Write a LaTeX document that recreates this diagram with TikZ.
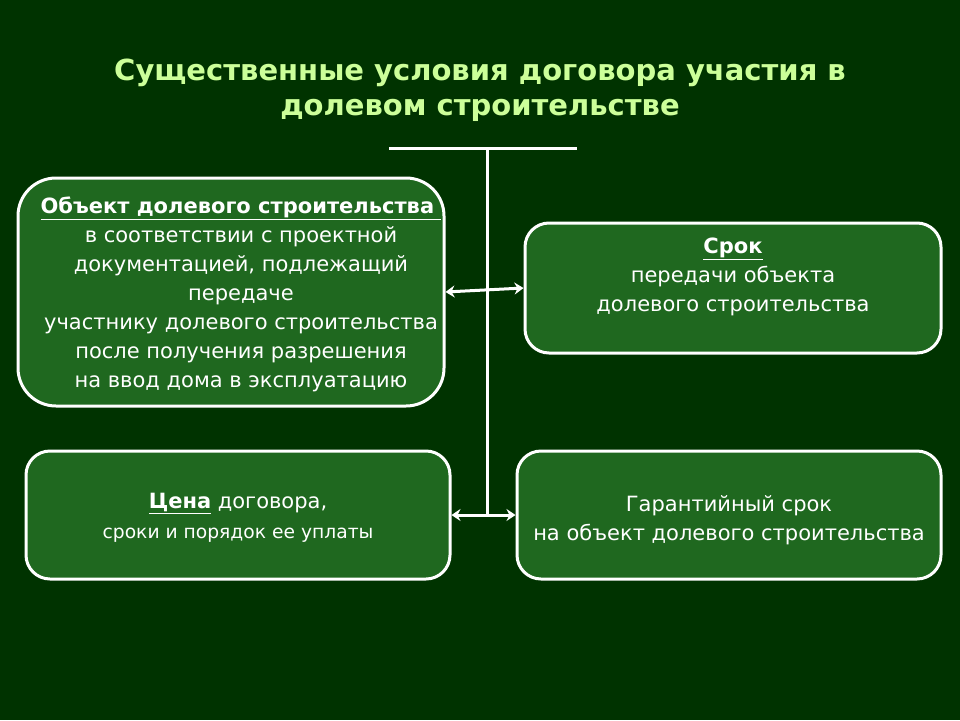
\documentclass[tikz,border=0pt]{standalone}
\usepackage{fontspec}
\setmainfont{DejaVu Sans}
\usetikzlibrary{arrows.meta}
\definecolor{bgc}{RGB}{0,51,0}
\definecolor{boxc}{RGB}{31,104,31}
\definecolor{titlec}{RGB}{204,255,153}
\tikzset{
  panel/.style={draw=white, line width=3pt, fill=boxc, inner sep=0pt},
  txt/.style={text=white, align=center, inner sep=0pt, font=\fontsize{21}{29}\selectfont},
  link/.style={draw=white, line width=3pt},
  dbl/.style={draw=white, line width=3pt, {Stealth[length=9pt,width=12pt]}-{Stealth[length=9pt,width=12pt]}},
}
\begin{document}
\begin{tikzpicture}[x=1pt,y=-1pt]
\fill[bgc] (0,0) rectangle (960,720);
\useasboundingbox (0,0) rectangle (960,720);
% title
\node[text=titlec, align=center, inner sep=0pt, font=\bfseries\fontsize{29}{35}\selectfont] (title) at (480,90)
  {Существенные условия договора участия в\\долевом строительстве};
% boxes
\node[panel, rounded corners=38pt, minimum width=426pt, minimum height=228pt] (b1) at (231,292) {};
\node[panel, rounded corners=24pt, minimum width=416pt, minimum height=130pt] (b2) at (733,288) {};
\node[panel, rounded corners=24pt, minimum width=424pt, minimum height=128pt] (b3) at (238,515) {};
\node[panel, rounded corners=24pt, minimum width=424pt, minimum height=128pt] (b4) at (729,515) {};
% texts
\node[txt] (t1) at (241,294) {\textbf{\underline{Объект долевого строительства\ }}\\
  в соответствии с проектной\\документацией, подлежащий\\передаче\\
  участнику долевого строительства\\после получения разрешения\\на ввод дома в эксплуатацию};
\node[txt] (t2) at (733,277) {\textbf{\underline{Срок}}\\передачи объекта\\долевого строительства};
\node[txt, font=\fontsize{18.7}{30}\selectfont] (t3) at (238,518) {{\fontsize{21}{30}\selectfont\textbf{\underline{Цена}} договора,}\\сроки и порядок ее уплаты};
\node[txt] (t4) at (729,520) {Гарантийный срок\\на объект долевого строительства};
% connectors
\coordinate (hl) at (389,148);
\coordinate (hr) at (577,148);
\coordinate (vt) at (487,148);
\coordinate (vb) at (487,517);
\draw[link] (hl) -- (hr);
\draw[link] (vt) -- (vb);
\draw[dbl] (b1.east) -- (b2.west);
\draw[dbl] (b3.east) -- (b4.west);
\end{tikzpicture}
\end{document}
